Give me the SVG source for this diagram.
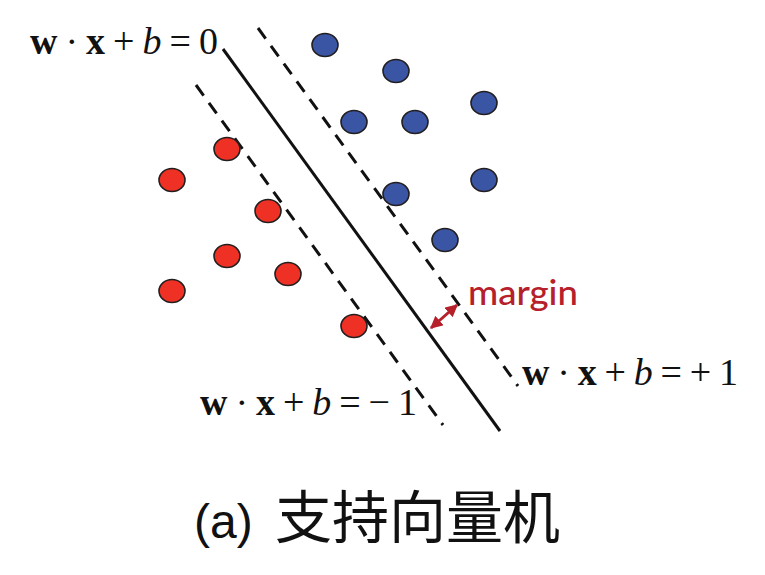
<svg xmlns="http://www.w3.org/2000/svg" width="765" height="575" viewBox="0 0 765 575">
<defs>
<style>
.red{fill:#EE3124;stroke:#231F20;stroke-width:1.6}
.blue{fill:#3A55A4;stroke:#231F20;stroke-width:1.6}
.solid{stroke:#111;stroke-width:3;fill:none}
.dash{stroke:#111;stroke-width:3;fill:none;stroke-dasharray:13,9}
.math{font-family:"Liberation Serif","DejaVu Serif",serif;font-size:38px;fill:#111}
.b{font-weight:bold}
.i{font-style:italic}
.margin{font-family:Lato,"Open Sans",sans-serif;font-size:34px;font-weight:500;fill:#B5202A}
.cap{font-family:"Liberation Sans","Noto Sans CJK SC",sans-serif;fill:#111}
</style>
<marker id="ah" viewBox="0 0 10 10" refX="9" refY="5" markerWidth="4.2" markerHeight="4.2" orient="auto-start-reverse">
<path d="M0,0 L10,5 L0,10 z" fill="#B5202A"/>
</marker>
</defs>
<g id="connectors">
<line class="solid" x1="223" y1="49" x2="500" y2="431"/>
<line class="dash" x1="258" y1="28" x2="518" y2="386"/>
<line class="dash" x1="196" y1="85" x2="443" y2="425"/>
<line x1="431" y1="328" x2="457" y2="305" stroke="#B5202A" stroke-width="3" marker-start="url(#ah)" marker-end="url(#ah)"/>
</g>
<g id="red-points">
<ellipse class="red" cx="227" cy="149" rx="13" ry="11.5"/>
<ellipse class="red" cx="172" cy="180" rx="13" ry="11.5"/>
<ellipse class="red" cx="268" cy="211" rx="13" ry="11.5"/>
<ellipse class="red" cx="227" cy="256" rx="13" ry="11.5"/>
<ellipse class="red" cx="172" cy="291" rx="13" ry="11.5"/>
<ellipse class="red" cx="288" cy="274" rx="13" ry="11.5"/>
<ellipse class="red" cx="354" cy="326" rx="13" ry="11.5"/>
</g>
<g id="blue-points">
<ellipse class="blue" cx="325" cy="45" rx="13" ry="11.5"/>
<ellipse class="blue" cx="396" cy="71" rx="13" ry="11.5"/>
<ellipse class="blue" cx="484" cy="103" rx="13" ry="11.5"/>
<ellipse class="blue" cx="354" cy="122" rx="13" ry="11.5"/>
<ellipse class="blue" cx="415" cy="122" rx="13" ry="11.5"/>
<ellipse class="blue" cx="396" cy="194" rx="13" ry="11.5"/>
<ellipse class="blue" cx="484" cy="180" rx="13" ry="11.5"/>
<ellipse class="blue" cx="445" cy="240" rx="13" ry="11.5"/>
</g>
<g id="label-hyperplane">
<text class="math" x="30" y="54" textLength="188" lengthAdjust="spacing"><tspan class="b">w</tspan>·<tspan class="b">x</tspan>+<tspan class="i">b</tspan>=0</text>
</g>
<g id="label-plus">
<text class="math" x="522" y="385" textLength="216" lengthAdjust="spacing"><tspan class="b">w</tspan>·<tspan class="b">x</tspan>+<tspan class="i">b</tspan>=+1</text>
</g>
<g id="label-minus">
<text class="math" x="200" y="415" textLength="217" lengthAdjust="spacing"><tspan class="b">w</tspan>·<tspan class="b">x</tspan>+<tspan class="i">b</tspan>=−1</text>
</g>
<g id="label-margin">
<text class="margin" x="468" y="305" textLength="110" lengthAdjust="spacingAndGlyphs">margin</text>
</g>
<g id="caption">
<text class="cap" x="194" y="538" font-size="48">(a)</text>
<text class="cap" x="275" y="538" font-size="57" style="font-family:'Noto Sans CJK SC',sans-serif">支持向量机</text>
</g>
</svg>
